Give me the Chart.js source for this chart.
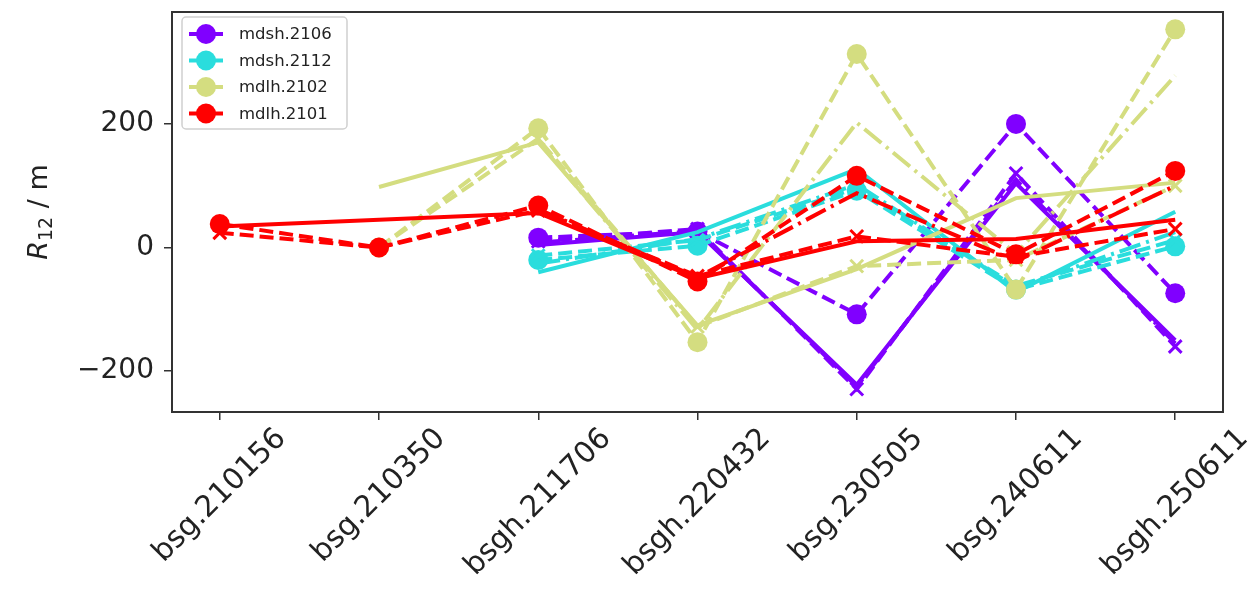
<!DOCTYPE html>
<html>
<head>
<meta charset="utf-8">
<script src="https://cdn.jsdelivr.net/npm/chart.js@4"></script>
<style>
  html, body { margin: 0; padding: 0; background: #fff; }
  #wrap { width: 1251px; height: 589px; }
</style>
</head>
<body>
<div id="wrap"><canvas id="myChart" width="1251" height="589"></canvas></div>
<script>
// samples along the x axis
const categories = ['bsg.210156', 'bsg.210350', 'bsgh.211706', 'bsgh.220432', 'bsg.230505', 'bsg.240611', 'bsgh.250611'];
const yTicks = [-200, 0, 200];

// mdsh.2106
const mdsh2106_o = [null, null, 16, 26, -108, 200, -74];
const mdsh2106_x = [null, null, 10, 30, -229, 120, -160];
const mdsh2106_dd = [null, null, 8, 27, -225, 110, -155];
const mdsh2106_s = [null, null, 4, 25, -222, 104, -150];

// mdsh.2112
const mdsh2112_o = [null, null, -20, 3, 92, -68, 2];
const mdsh2112_x = [null, null, -13, 12, 96, -62, 12];
const mdsh2112_dd = [null, null, -26, 14, 102, -65, 25];
const mdsh2112_s = [null, null, -40, 25, 127, -72, 58];

// mdlh.2102
const mdlh2102_o = [null, 0, 193, -153, 313, -68, 353];
const mdlh2102_x = [null, 0, 176, -128, -30, -20, 100];
const mdlh2102_dd = [null, null, 172, -133, 202, -10, 278];
const mdlh2102_s = [null, 98, 170, -126, -35, 80, 105];

// mdlh.2101
const mdlh2101_o = [38, 0, 68, -55, 116, -11, 124];
const mdlh2101_x = [24, 0, 60, -46, 18, -15, 30];
const mdlh2101_dd = [null, null, 62, -48, 88, -22, 100];
const mdlh2101_s = [34, null, 56, -50, 10, 14, 45];

const groups = [
  { name: 'mdsh.2106', color: '#8000ff', series: [mdsh2106_o, mdsh2106_x, mdsh2106_dd, mdsh2106_s] },
  { name: 'mdsh.2112', color: '#2adddd', series: [mdsh2112_o, mdsh2112_x, mdsh2112_dd, mdsh2112_s] },
  { name: 'mdlh.2102', color: '#d4dd80', series: [mdlh2102_o, mdlh2102_x, mdlh2102_dd, mdlh2102_s] },
  { name: 'mdlh.2101', color: '#ff0000', series: [mdlh2101_o, mdlh2101_x, mdlh2101_dd, mdlh2101_s] },
];

// '--o', '--x', '-.', '-'
const styles = [
  { dash: [14, 6], point: 'circle', radius: 10 },
  { dash: [14, 6], point: 'crossRot', radius: 9 },
  { dash: [22, 6, 3, 6], point: false, radius: 0 },
  { dash: [], point: false, radius: 0 },
];

function toPoints(vals) {
  const pts = [];
  vals.forEach(function(v, i) {
    if (v !== null) pts.push({ x: i, y: v });
  });
  return pts;
}

const datasets = [];
let n = 0;
groups.forEach(function(g) {
  g.series.forEach(function(vals, k) {
    const st = styles[k];
    datasets.push({
      label: g.name + (k === 0 ? '' : '_' + k),
      data: toPoints(vals),
      borderColor: g.color,
      backgroundColor: g.color,
      borderWidth: 4,
      borderDash: st.dash,
      spanGaps: true,
      tension: 0,
      pointStyle: st.point || 'circle',
      pointRadius: st.radius,
      pointBorderWidth: st.point === 'crossRot' ? 3 : 0,
      pointBorderColor: g.color,
      pointBackgroundColor: g.color,
      order: 100 - n,
    });
    n++;
  });
});

const FONT = '"DejaVu Sans", sans-serif';

const framePlugin = {
  id: 'frame',
  afterDraw(chart) {
    const ctx = chart.ctx;
    const a = chart.chartArea;
    ctx.save();
    ctx.strokeStyle = '#333';
    ctx.lineWidth = 2;
    ctx.strokeRect(a.left, a.top, a.right - a.left, a.bottom - a.top);

    // rotated category labels, centred under each tick
    const xs = chart.scales.x;
    ctx.font = '29.5px ' + FONT;
    ctx.fillStyle = '#222';
    ctx.textAlign = 'center';
    ctx.textBaseline = 'middle';
    categories.forEach(function(c, i) {
      const px = xs.getPixelForValue(i);
      const L = ctx.measureText(c).width;
      const s = 0.7071 * (L + 34);
      const cy = a.bottom + 10 + s / 2;
      ctx.save();
      ctx.translate(px, cy);
      ctx.rotate(-Math.PI / 4);
      ctx.fillText(c, 0, 0);
      ctx.restore();
    });

    // y axis title: R_12 / m
    ctx.save();
    ctx.translate(40, 212);
    ctx.rotate(-Math.PI / 2);
    ctx.textBaseline = 'middle';
    ctx.textAlign = 'left';
    const big = '27px ' + FONT;
    const ital = 'italic 27px ' + FONT;
    const small = '19px ' + FONT;
    ctx.font = ital; const wR = ctx.measureText('R').width;
    ctx.font = small; const w12 = ctx.measureText('12').width;
    ctx.font = big; const wM = ctx.measureText(' / m').width;
    let x0 = -(wR + w12 + wM) / 2;
    ctx.font = ital; ctx.fillText('R', x0, 0); x0 += wR;
    ctx.font = small; ctx.fillText('12', x0, 7); x0 += w12;
    ctx.font = big; ctx.fillText(' / m', x0, 0);
    ctx.restore();

    // legend in the upper left corner
    const lx = a.left + 10, ly = a.top + 5, lw = 165, lh = 112;
    ctx.fillStyle = 'rgba(255,255,255,0.85)';
    ctx.strokeStyle = '#d0d0d0';
    ctx.lineWidth = 1.5;
    ctx.beginPath();
    ctx.roundRect(lx, ly, lw, lh, 4);
    ctx.fill();
    ctx.stroke();
    ctx.font = '16.5px ' + FONT;
    ctx.textAlign = 'left';
    ctx.textBaseline = 'middle';
    groups.forEach(function(g, i) {
      const yy = ly + 17 + i * 26.5;
      ctx.strokeStyle = g.color;
      ctx.lineWidth = 4;
      ctx.setLineDash([]);
      ctx.beginPath();
      ctx.moveTo(lx + 7, yy);
      ctx.lineTo(lx + 41, yy);
      ctx.stroke();
      ctx.fillStyle = g.color;
      ctx.beginPath();
      ctx.arc(lx + 24, yy, 10, 0, Math.PI * 2);
      ctx.fill();
      ctx.fillStyle = '#222';
      ctx.fillText(g.name, lx + 57, yy + 1);
    });
    ctx.restore();
  }
};

const chart = new Chart(document.getElementById('myChart').getContext('2d'), {
  type: 'line',
  data: { datasets: datasets },
  options: {
    responsive: false,
    animation: false,
    layout: { padding: { top: 11, right: 28, left: 0, bottom: 0 } },
    plugins: {
      legend: { display: false },
      tooltip: { enabled: false },
    },
    scales: {
      x: {
        type: 'linear',
        min: -0.3,
        max: 6.3,
        afterBuildTicks: function(scale) {
          scale.ticks = categories.map(function(c, i) { return { value: i }; });
        },
        afterFit: function(scale) {
          scale.height = 177;
          scale.paddingLeft = 0;
          scale.paddingRight = 0;
        },
        grid: { drawOnChartArea: false, drawTicks: true, tickLength: 8, color: '#333', lineWidth: 1.5 },
        border: { display: true, color: '#333', width: 2 },
        ticks: { display: false },
      },
      y: {
        type: 'linear',
        min: -266,
        max: 381,
        afterBuildTicks: function(scale) {
          scale.ticks = yTicks.map(function(v) { return { value: v }; });
        },
        afterFit: function(scale) {
          scale.width = 172;
          scale.paddingTop = 0;
          scale.paddingBottom = 0;
        },
        grid: { drawOnChartArea: false, drawTicks: true, tickLength: 8, color: '#333', lineWidth: 1.5 },
        border: { display: true, color: '#333', width: 2 },
        ticks: {
          padding: 10,
          color: '#222',
          font: { family: FONT, size: 28 },
          callback: function(v) { return String(v).replace('-', '\u2212'); },
        },
      },
    },
  },
  plugins: [framePlugin],
});
</script>
</body>
</html>
